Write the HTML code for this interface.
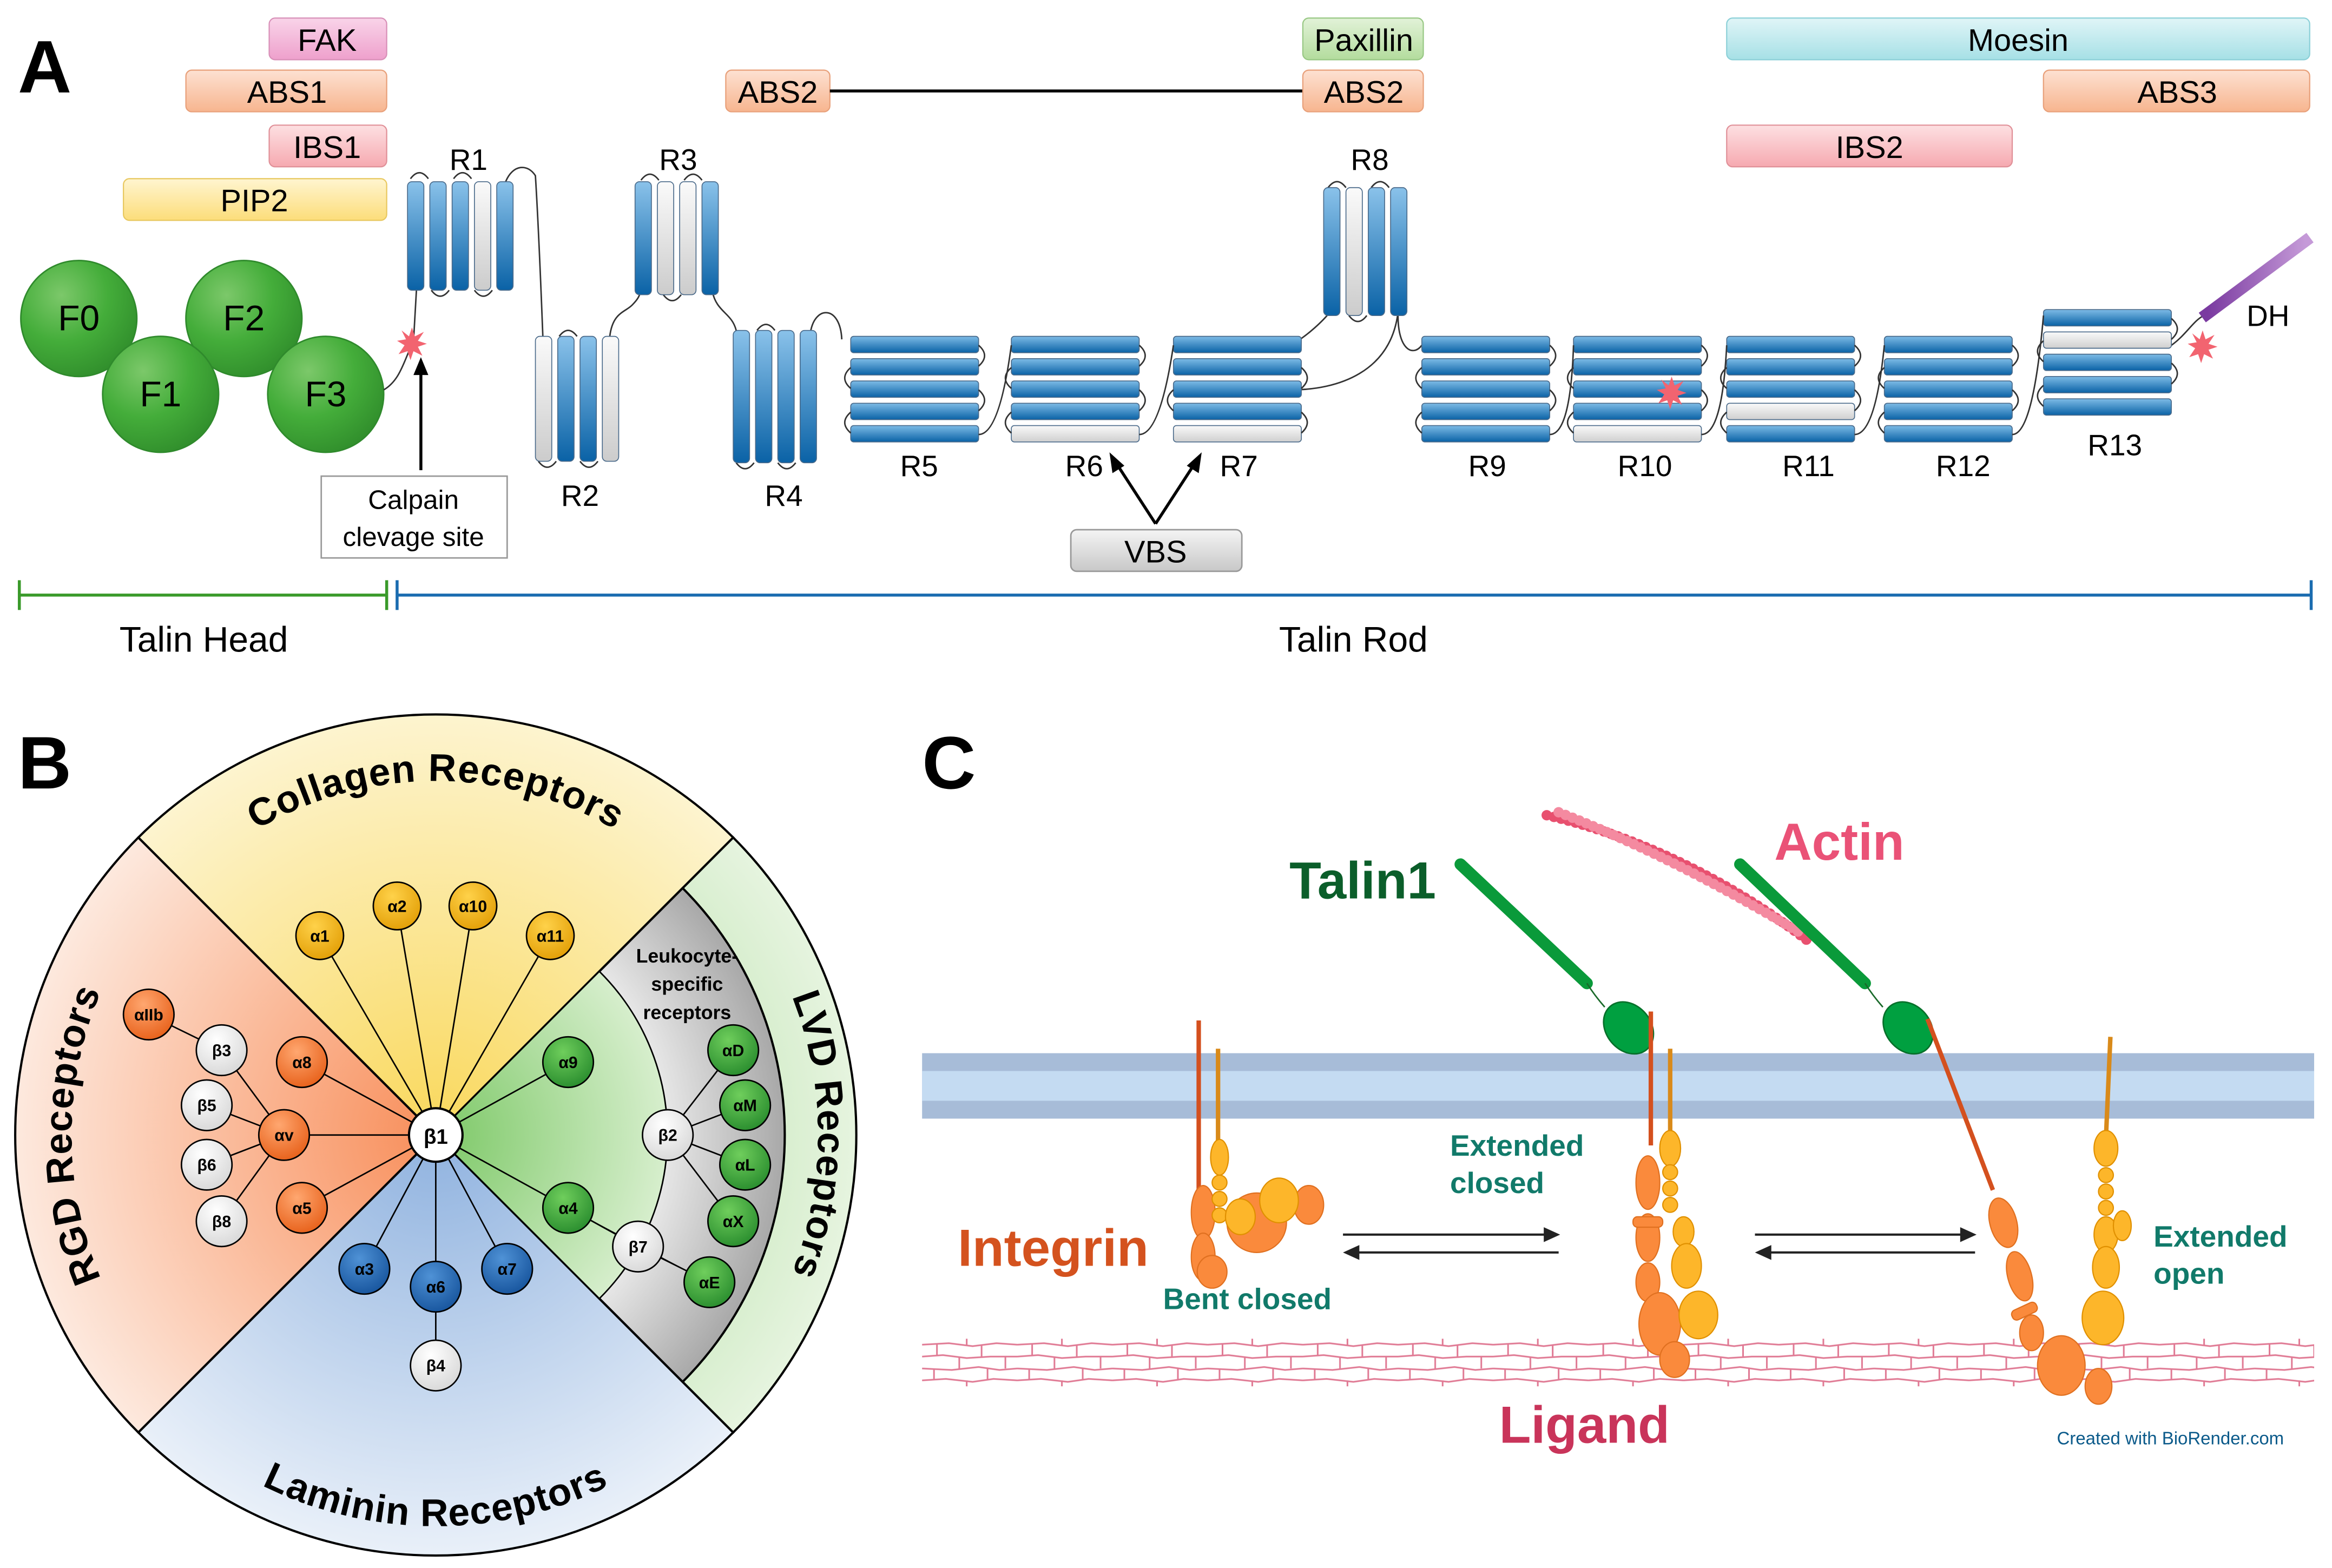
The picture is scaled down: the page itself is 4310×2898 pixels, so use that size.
<!DOCTYPE html>
<html><head><meta charset="utf-8"><style>
html,body{margin:0;padding:0;background:#fff}
svg{display:block}
text{font-family:"Liberation Sans","DejaVu Sans",sans-serif}
</style></head><body>
<svg width="4310" height="2898" viewBox="0 0 1568 1054" xmlns="http://www.w3.org/2000/svg">
<defs>
<linearGradient id="bh" x1="0" y1="0" x2="0" y2="1"><stop offset="0" stop-color="#7dbbe6"/><stop offset="1" stop-color="#0a62a6"/></linearGradient>
<linearGradient id="wh" x1="0" y1="0" x2="0" y2="1"><stop offset="0" stop-color="#fafafa"/><stop offset="1" stop-color="#cfcfcf"/></linearGradient>
<linearGradient id="bv" x1="0" y1="0" x2="0" y2="1"><stop offset="0" stop-color="#8ac2ea"/><stop offset="1" stop-color="#0a62a6"/></linearGradient>
<linearGradient id="wv" x1="0" y1="0" x2="0" y2="1"><stop offset="0" stop-color="#fafafa"/><stop offset="1" stop-color="#cccccc"/></linearGradient>
<radialGradient id="gr" cx="0.35" cy="0.3" r="0.8"><stop offset="0" stop-color="#7cc86a"/><stop offset="0.5" stop-color="#44ad3a"/><stop offset="1" stop-color="#2e8a2a"/></radialGradient>
<linearGradient id="pk" x1="0" y1="0" x2="0" y2="1"><stop offset="0" stop-color="#f9d4e9"/><stop offset="1" stop-color="#eea0cc"/></linearGradient>
<linearGradient id="pe" x1="0" y1="0" x2="0" y2="1"><stop offset="0" stop-color="#fde1d2"/><stop offset="1" stop-color="#f7b58f"/></linearGradient>
<linearGradient id="rd" x1="0" y1="0" x2="0" y2="1"><stop offset="0" stop-color="#fde0e2"/><stop offset="1" stop-color="#f6a9b0"/></linearGradient>
<linearGradient id="ye" x1="0" y1="0" x2="0" y2="1"><stop offset="0" stop-color="#fff5d0"/><stop offset="1" stop-color="#fcdd7a"/></linearGradient>
<linearGradient id="gn" x1="0" y1="0" x2="0" y2="1"><stop offset="0" stop-color="#e2f2d8"/><stop offset="1" stop-color="#b3dc9d"/></linearGradient>
<linearGradient id="cy" x1="0" y1="0" x2="0" y2="1"><stop offset="0" stop-color="#e0f5f7"/><stop offset="1" stop-color="#a6e0e6"/></linearGradient>
<linearGradient id="gy" x1="0" y1="0" x2="0" y2="1"><stop offset="0" stop-color="#f4f4f4"/><stop offset="1" stop-color="#c8c8c8"/></linearGradient>
<radialGradient id="sO" gradientUnits="userSpaceOnUse" cx="293" cy="763" r="283"><stop offset="0" stop-color="#f88e5a"/><stop offset="1" stop-color="#fde9de"/></radialGradient>
<radialGradient id="sY" gradientUnits="userSpaceOnUse" cx="293" cy="763" r="283"><stop offset="0" stop-color="#f9d85c"/><stop offset="1" stop-color="#fdf4cf"/></radialGradient>
<radialGradient id="sB" gradientUnits="userSpaceOnUse" cx="293" cy="763" r="283"><stop offset="0" stop-color="#8fb2df"/><stop offset="1" stop-color="#e9f0f9"/></radialGradient>
<radialGradient id="sG" gradientUnits="userSpaceOnUse" cx="293" cy="763" r="283"><stop offset="0.5" stop-color="#bfe4b2"/><stop offset="1" stop-color="#e6f4df"/></radialGradient>
<radialGradient id="sG2" gradientUnits="userSpaceOnUse" cx="293" cy="763" r="155"><stop offset="0" stop-color="#7cc866"/><stop offset="1" stop-color="#d6eecc"/></radialGradient>
<radialGradient id="sGy" gradientUnits="userSpaceOnUse" cx="293" cy="763" r="235"><stop offset="0.6" stop-color="#f2f2f2"/><stop offset="1" stop-color="#a8a8a8"/></radialGradient>
<radialGradient id="nO" cx="0.4" cy="0.3" r="0.8"><stop offset="0" stop-color="#ffa770"/><stop offset="1" stop-color="#e55a12"/></radialGradient>
<radialGradient id="nY" cx="0.4" cy="0.3" r="0.8"><stop offset="0" stop-color="#ffd24a"/><stop offset="1" stop-color="#e09a00"/></radialGradient>
<radialGradient id="nB" cx="0.4" cy="0.3" r="0.8"><stop offset="0" stop-color="#4f92d6"/><stop offset="1" stop-color="#124f98"/></radialGradient>
<radialGradient id="nG" cx="0.4" cy="0.3" r="0.8"><stop offset="0" stop-color="#6fce5c"/><stop offset="1" stop-color="#23872a"/></radialGradient>
<radialGradient id="nW" cx="0.4" cy="0.3" r="0.8"><stop offset="0" stop-color="#ffffff"/><stop offset="1" stop-color="#d4d4d4"/></radialGradient>
<linearGradient id="dh" x1="0" y1="0" x2="1" y2="0"><stop offset="0" stop-color="#7a3aa0"/><stop offset="1" stop-color="#c59ad8"/></linearGradient>
<pattern id="mesh" patternUnits="userSpaceOnUse" x="620" y="900" width="64" height="32">
<g stroke="#e07a94" stroke-width="1.1" fill="none">
<path d="M0 4 L18 3 L34 5 L50 3 L64 4"/>
<path d="M0 12 L14 11 L30 13 L46 12 L64 12"/>
<path d="M0 20 L20 21 L38 19 L52 21 L64 20"/>
<path d="M0 28 L16 27 L34 29 L48 27 L64 28"/>
<path d="M10 3 V11 M40 4 V12 M25 12 V20 M56 12 V20 M8 20 V28 M44 20 V28 M30 28 V32 M30 0 V4"/>
</g></pattern>
<path id="arcTop" d="M 55 763 A 238 238 0 0 1 531 763"/>
<path id="arcBot" d="M 30 763 A 263 263 0 0 0 556 763"/>
<path id="arcL" d="M 293 1008 A 245 245 0 0 1 293 518"/>
<path id="arcR" d="M 293 506 A 257 257 0 0 1 293 1020"/>
</defs>

<!-- ===== PANEL A ===== -->
<text x="12" y="62" font-size="50" font-weight="bold">A</text>
<g font-size="21" text-anchor="middle" stroke-width="0.8">
<rect x="181" y="12" width="79" height="28" rx="4" fill="url(#pk)" stroke="#d890b8"/><text x="220" y="34">FAK</text>
<rect x="125" y="47" width="135" height="28" rx="4" fill="url(#pe)" stroke="#e8a07a"/><text x="193" y="69">ABS1</text>
<rect x="181" y="84" width="79" height="28" rx="4" fill="url(#rd)" stroke="#e09098"/><text x="220" y="106">IBS1</text>
<rect x="83" y="120" width="177" height="28" rx="4" fill="url(#ye)" stroke="#e8c860"/><text x="171" y="142">PIP2</text>
<rect x="488" y="47" width="70" height="28" rx="4" fill="url(#pe)" stroke="#e8a07a"/><text x="523" y="69">ABS2</text>
<line x1="558" y1="61" x2="876" y2="61" stroke="#000" stroke-width="2"/>
<rect x="876" y="12" width="81" height="28" rx="4" fill="url(#gn)" stroke="#98c884"/><text x="917" y="34">Paxillin</text>
<rect x="876" y="47" width="81" height="28" rx="4" fill="url(#pe)" stroke="#e8a07a"/><text x="917" y="69">ABS2</text>
<rect x="1161" y="12" width="392" height="28" rx="4" fill="url(#cy)" stroke="#8cd0d8"/><text x="1357" y="34">Moesin</text>
<rect x="1374" y="47" width="179" height="28" rx="4" fill="url(#pe)" stroke="#e8a07a"/><text x="1464" y="69">ABS3</text>
<rect x="1161" y="84" width="192" height="28" rx="4" fill="url(#rd)" stroke="#e09098"/><text x="1257" y="106">IBS2</text>
</g>

<g font-size="24" text-anchor="middle">
<circle cx="53" cy="214" r="39" fill="url(#gr)" stroke="#2f8a2c"/>
<circle cx="164" cy="214" r="39" fill="url(#gr)" stroke="#2f8a2c"/>
<circle cx="108" cy="265" r="39" fill="url(#gr)" stroke="#2f8a2c"/>
<circle cx="219" cy="265" r="39" fill="url(#gr)" stroke="#2f8a2c"/>
<text x="53" y="222">F0</text><text x="164" y="222">F2</text><text x="108" y="273">F1</text><text x="219" y="273">F3</text>
</g>

<g fill="none" stroke="#333" stroke-width="1">
<path d="M258 262 C270 255 272 240 278 230 L280 195"/>
<path d="M340 122 C345 110 355 110 360 118 C362 150 364 200 365 226"/>
<path d="M410 226 C412 210 420 210 425 205 C430 200 430 198 431 195"/>
<path d="M479 196 C482 210 492 210 495 222"/>
<path d="M545 223 C548 205 565 205 566 228"/>
<path d="M868 232 C880 225 890 215 894 210"/>
<path d="M868 262 C900 262 935 250 940 210"/>
<path d="M940 212 C940 235 950 240 956 232"/>
<path d="M1460 232 C1470 225 1475 215 1482 212"/>
<path d="M276 120 q6 -8 12 0 M305 120 q6 -8 12 0 M290 195 q6 8 12 0 M319 195 q6 8 12 0"/>
<path d="M376 226 q6 -8 12 0 M362 310 q6 8 12 0 M390 310 q6 8 12 0"/>
<path d="M431 121 q6 -8 12 0 M460 121 q6 -8 12 0 M446 198 q6 8 12 0"/>
<path d="M509 222 q6 -8 12 0 M495 311 q6 8 12 0 M523 311 q6 8 12 0"/>
<path d="M893 126 q6 -8 12 0 M922 126 q6 -8 12 0 M907 212 q6 8 12 0"/>
</g>

<g stroke="#4a6a8a" stroke-width="0.6">
<g transform="translate(274,122)">
<rect x="0" width="11" height="73" rx="3" fill="url(#bv)"/><rect x="15" width="11" height="73" rx="3" fill="url(#bv)"/><rect x="30" width="11" height="73" rx="3" fill="url(#bv)"/><rect x="45" width="11" height="73" rx="3" fill="url(#wv)"/><rect x="60" width="11" height="73" rx="3" fill="url(#bv)"/></g>
<g transform="translate(360,226)">
<rect x="0" width="11" height="84" rx="3" fill="url(#wv)"/><rect x="15" width="11" height="84" rx="3" fill="url(#bv)"/><rect x="30" width="11" height="84" rx="3" fill="url(#bv)"/><rect x="45" width="11" height="84" rx="3" fill="url(#wv)"/></g>
<g transform="translate(427,122)">
<rect x="0" width="11" height="76" rx="3" fill="url(#bv)"/><rect x="15" width="11" height="76" rx="3" fill="url(#wv)"/><rect x="30" width="11" height="76" rx="3" fill="url(#wv)"/><rect x="45" width="11" height="76" rx="3" fill="url(#bv)"/></g>
<g transform="translate(493,222)">
<rect x="0" width="11" height="89" rx="3" fill="url(#bv)"/><rect x="15" width="11" height="89" rx="3" fill="url(#bv)"/><rect x="30" width="11" height="89" rx="3" fill="url(#bv)"/><rect x="45" width="11" height="89" rx="3" fill="url(#bv)"/></g>
<g transform="translate(890,126)">
<rect x="0" width="11" height="86" rx="3" fill="url(#bv)"/><rect x="15" width="11" height="86" rx="3" fill="url(#wv)"/><rect x="30" width="11" height="86" rx="3" fill="url(#bv)"/><rect x="45" width="11" height="86" rx="3" fill="url(#bv)"/></g>
</g>

<g stroke="#4a6a8a" stroke-width="0.6">
<g transform="translate(572,226)"><rect y="0" width="86" height="11" rx="2" fill="url(#bh)"/><rect y="15" width="86" height="11" rx="2" fill="url(#bh)"/><rect y="30" width="86" height="11" rx="2" fill="url(#bh)"/><rect y="45" width="86" height="11" rx="2" fill="url(#bh)"/><rect y="60" width="86" height="11" rx="2" fill="url(#bh)"/></g>
<g transform="translate(680,226)"><rect y="0" width="86" height="11" rx="2" fill="url(#bh)"/><rect y="15" width="86" height="11" rx="2" fill="url(#bh)"/><rect y="30" width="86" height="11" rx="2" fill="url(#bh)"/><rect y="45" width="86" height="11" rx="2" fill="url(#bh)"/><rect y="60" width="86" height="11" rx="2" fill="url(#wh)"/></g>
<g transform="translate(789,226)"><rect y="0" width="86" height="11" rx="2" fill="url(#bh)"/><rect y="15" width="86" height="11" rx="2" fill="url(#bh)"/><rect y="30" width="86" height="11" rx="2" fill="url(#bh)"/><rect y="45" width="86" height="11" rx="2" fill="url(#bh)"/><rect y="60" width="86" height="11" rx="2" fill="url(#wh)"/></g>
<g transform="translate(956,226)"><rect y="0" width="86" height="11" rx="2" fill="url(#bh)"/><rect y="15" width="86" height="11" rx="2" fill="url(#bh)"/><rect y="30" width="86" height="11" rx="2" fill="url(#bh)"/><rect y="45" width="86" height="11" rx="2" fill="url(#bh)"/><rect y="60" width="86" height="11" rx="2" fill="url(#bh)"/></g>
<g transform="translate(1058,226)"><rect y="0" width="86" height="11" rx="2" fill="url(#bh)"/><rect y="15" width="86" height="11" rx="2" fill="url(#bh)"/><rect y="30" width="86" height="11" rx="2" fill="url(#bh)"/><rect y="45" width="86" height="11" rx="2" fill="url(#bh)"/><rect y="60" width="86" height="11" rx="2" fill="url(#wh)"/></g>
<g transform="translate(1161,226)"><rect y="0" width="86" height="11" rx="2" fill="url(#bh)"/><rect y="15" width="86" height="11" rx="2" fill="url(#bh)"/><rect y="30" width="86" height="11" rx="2" fill="url(#bh)"/><rect y="45" width="86" height="11" rx="2" fill="url(#wh)"/><rect y="60" width="86" height="11" rx="2" fill="url(#bh)"/></g>
<g transform="translate(1267,226)"><rect y="0" width="86" height="11" rx="2" fill="url(#bh)"/><rect y="15" width="86" height="11" rx="2" fill="url(#bh)"/><rect y="30" width="86" height="11" rx="2" fill="url(#bh)"/><rect y="45" width="86" height="11" rx="2" fill="url(#bh)"/><rect y="60" width="86" height="11" rx="2" fill="url(#bh)"/></g>
<g transform="translate(1374,208)"><rect y="0" width="86" height="11" rx="2" fill="url(#bh)"/><rect y="15" width="86" height="11" rx="2" fill="url(#wh)"/><rect y="30" width="86" height="11" rx="2" fill="url(#bh)"/><rect y="45" width="86" height="11" rx="2" fill="url(#bh)"/><rect y="60" width="86" height="11" rx="2" fill="url(#bh)"/></g>
</g>
<g fill="none" stroke="#333" stroke-width="1">
<path d="M658 232 q8 7 0 14 M572 247 q-8 7 0 14 M658 262 q8 7 0 14 M572 277 q-8 7 0 14 M658 292 q14 0 22 -60"/>
<path d="M766 232 q8 7 0 14 M680 247 q-8 7 0 14 M766 262 q8 7 0 14 M680 277 q-8 7 0 14 M766 292 q14 0 23 -60"/>
<path d="M875 247 q8 7 0 14 M789 262 q-8 7 0 14 M875 277 q8 7 0 14"/>
<path d="M1042 232 q8 7 0 14 M956 247 q-8 7 0 14 M1042 262 q8 7 0 14 M956 277 q-8 7 0 14 M1042 292 q14 0 16 -60"/>
<path d="M1144 232 q8 7 0 14 M1058 247 q-8 7 0 14 M1144 262 q8 7 0 14 M1058 277 q-8 7 0 14 M1144 292 q14 0 17 -60"/>
<path d="M1247 232 q8 7 0 14 M1161 247 q-8 7 0 14 M1247 262 q8 7 0 14 M1161 277 q-8 7 0 14 M1247 292 q14 0 20 -60"/>
<path d="M1353 232 q8 7 0 14 M1267 247 q-8 7 0 14 M1353 262 q8 7 0 14 M1267 277 q-8 7 0 14 M1353 292 q14 0 21 -80"/>
<path d="M1460 214 q8 7 0 14 M1374 229 q-8 7 0 14 M1460 244 q8 7 0 14 M1374 259 q-8 7 0 14"/>
</g>
<line x1="1484" y1="211" x2="1550" y2="162" stroke="url(#dh)" stroke-width="8" stroke-linecap="square"/>
<g fill="#f26470">
<polygon points="277,220 279,226 285,223 281,229 287,231 281,233 284,239 278,236 276,242 274,236 268,238 272,232 267,229 273,228 270,222 275,226"/>
<polygon points="1124,253 1126,259 1132,256 1128,262 1134,264 1128,266 1131,272 1125,269 1123,275 1121,269 1115,271 1119,265 1114,262 1120,261 1117,255 1122,259"/>
<polygon points="1481,222 1483,228 1489,225 1485,231 1491,233 1485,235 1488,241 1482,238 1480,244 1478,238 1472,240 1476,234 1471,231 1477,230 1474,224 1479,228"/>
</g>

<g font-size="20" text-anchor="middle">
<text x="315" y="114">R1</text><text x="456" y="114">R3</text><text x="921" y="114">R8</text>
<text x="390" y="340">R2</text><text x="527" y="340">R4</text>
<text x="618" y="320">R5</text><text x="729" y="320">R6</text><text x="833" y="320">R7</text>
<text x="1000" y="320">R9</text><text x="1106" y="320">R10</text><text x="1216" y="320">R11</text><text x="1320" y="320">R12</text><text x="1422" y="306">R13</text>
<text x="1525" y="219">DH</text>
</g>
<line x1="283" y1="316" x2="283" y2="248" stroke="#000" stroke-width="2"/>
<polygon points="283,240 278,252 288,252" fill="#000"/>
<rect x="216" y="320" width="125" height="55" fill="#fff" stroke="#999"/>
<text x="278" y="342" font-size="18" text-anchor="middle">Calpain</text>
<text x="278" y="367" font-size="18" text-anchor="middle">clevage site</text>
<rect x="720" y="356" width="115" height="28" rx="4" fill="url(#gy)" stroke="#999"/>
<text x="777" y="378" font-size="21" text-anchor="middle">VBS</text>
<path d="M777 352 L751 312 M777 352 L803 312" stroke="#000" stroke-width="2" fill="none"/>
<polygon points="746,304 748,318 756,313" fill="#000"/><polygon points="808,304 798,313 806,318" fill="#000"/>

<path d="M13 390 V410 M13 400 H260 M260 390 V410" stroke="#3a9a2a" stroke-width="2" fill="none"/>
<path d="M267 390 V410 M267 400 H1554 M1554 390 V410" stroke="#1a6cb0" stroke-width="2" fill="none"/>
<text x="137" y="438" font-size="24" text-anchor="middle">Talin Head</text>
<text x="910" y="438" font-size="24" text-anchor="middle">Talin Rod</text>

<!-- ===== PANEL B ===== -->
<text x="12" y="530" font-size="50" font-weight="bold">B</text>
<g stroke="#000" stroke-width="1.5">
<path d="M293 763 L93 563 A283 283 0 0 1 493 563 Z" fill="url(#sY)"/>
<path d="M293 763 L93 963 A283 283 0 0 0 493 963 Z" fill="url(#sB)"/>
<path d="M293 763 L93 563 A283 283 0 0 0 93 963 Z" fill="url(#sO)"/>
<path d="M293 763 L493 563 A283 283 0 0 1 493 963 Z" fill="url(#sG)"/>
<path d="M293 763 L459 597 A235 235 0 0 1 459 929 Z" fill="url(#sGy)"/>
<path d="M293 763 L403 653 A155 155 0 0 1 403 873 Z" fill="url(#sG2)" stroke-width="1"/>
</g>
<g font-size="26" font-weight="bold" letter-spacing="0.5">
<text><textPath href="#arcTop" startOffset="50%" text-anchor="middle">Collagen Receptors</textPath></text>
<text><textPath href="#arcBot" startOffset="50%" text-anchor="middle">Laminin Receptors</textPath></text>
<text><textPath href="#arcL" startOffset="50%" text-anchor="middle">RGD Receptors</textPath></text>
<text><textPath href="#arcR" startOffset="50%" text-anchor="middle">LVD Receptors</textPath></text>
</g>
<g font-size="13" font-weight="bold" text-anchor="middle"><text x="462" y="647">Leukocyte-</text><text x="462" y="666">specific</text><text x="462" y="685">receptors</text></g>
<g stroke="#000" stroke-width="1">
<path d="M293 763 L215 629 M293 763 L267 609 M293 763 L318 609 M293 763 L370 629 M293 763 L203 714 M293 763 L191 763 M293 763 L203 812 M293 763 L245 853 M293 763 L293 865 M293 763 L341 853 M293 763 L382 714 M293 763 L382 812"/>
<path d="M191 763 L149 706 M191 763 L139 743 M191 763 L139 783 M191 763 L149 821 M100 682 L149 706 M293 865 L293 918 M382 812 L429 838 L477 862 M449 763 L493 706 M449 763 L501 743 M449 763 L501 783 M449 763 L493 821"/>
</g>
<g stroke="#000" stroke-width="1">
<circle cx="215" cy="629" r="16" fill="url(#nY)"/><circle cx="267" cy="609" r="16" fill="url(#nY)"/><circle cx="318" cy="609" r="16" fill="url(#nY)"/><circle cx="370" cy="629" r="16" fill="url(#nY)"/>
<circle cx="203" cy="714" r="17" fill="url(#nO)"/><circle cx="191" cy="763" r="17" fill="url(#nO)"/><circle cx="203" cy="812" r="17" fill="url(#nO)"/><circle cx="100" cy="682" r="17" fill="url(#nO)"/>
<circle cx="149" cy="706" r="17" fill="url(#nW)"/><circle cx="139" cy="743" r="17" fill="url(#nW)"/><circle cx="139" cy="783" r="17" fill="url(#nW)"/><circle cx="149" cy="821" r="17" fill="url(#nW)"/>
<circle cx="245" cy="853" r="17" fill="url(#nB)"/><circle cx="293" cy="865" r="17" fill="url(#nB)"/><circle cx="341" cy="853" r="17" fill="url(#nB)"/><circle cx="293" cy="918" r="17" fill="url(#nW)"/>
<circle cx="382" cy="714" r="17" fill="url(#nG)"/><circle cx="382" cy="812" r="17" fill="url(#nG)"/><circle cx="429" cy="838" r="17" fill="url(#nW)"/><circle cx="477" cy="862" r="17" fill="url(#nG)"/>
<circle cx="449" cy="763" r="17" fill="url(#nW)"/><circle cx="493" cy="706" r="17" fill="url(#nG)"/><circle cx="501" cy="743" r="17" fill="url(#nG)"/><circle cx="501" cy="783" r="17" fill="url(#nG)"/><circle cx="493" cy="821" r="17" fill="url(#nG)"/>
<circle cx="293" cy="763" r="18" fill="#fff" stroke-width="1.5"/>
</g>
<g font-size="11" font-weight="bold" text-anchor="middle">
<text x="215" y="633">α1</text><text x="267" y="613">α2</text><text x="318" y="613">α10</text><text x="370" y="633">α11</text>
<text x="203" y="718">α8</text><text x="191" y="767">αv</text><text x="203" y="816">α5</text><text x="100" y="686">αIIb</text>
<text x="149" y="710">β3</text><text x="139" y="747">β5</text><text x="139" y="787">β6</text><text x="149" y="825">β8</text>
<text x="245" y="857">α3</text><text x="293" y="869">α6</text><text x="341" y="857">α7</text><text x="293" y="922">β4</text>
<text x="382" y="718">α9</text><text x="382" y="816">α4</text><text x="429" y="842">β7</text><text x="477" y="866">αE</text>
<text x="449" y="767">β2</text><text x="493" y="710">αD</text><text x="501" y="747">αM</text><text x="501" y="787">αL</text><text x="493" y="825">αX</text>
<text x="293" y="769" font-size="14">β1</text>
</g>

<!-- ===== PANEL C ===== -->
<text x="620" y="530" font-size="50" font-weight="bold">C</text>
<rect x="620" y="708" width="936" height="44" fill="#a7bcd8"/>
<rect x="620" y="720" width="936" height="20" fill="#c4dbf2"/>
<rect x="620" y="900" width="936" height="32" fill="url(#mesh)"/>
<g fill="none" stroke-linecap="round">
<path d="M1040 548 C1100 562 1160 590 1215 632" stroke="#e8506f" stroke-width="7" stroke-dasharray="0 5"/>
<path d="M1048 546 C1110 570 1165 600 1212 628" stroke="#f48aa0" stroke-width="7" stroke-dasharray="0 5"/>
</g>
<g stroke="#0a9a3a" stroke-width="8" stroke-linecap="round">
<line x1="982" y1="581" x2="1067" y2="661"/>
<line x1="1170" y1="581" x2="1254" y2="661"/>
</g>
<path d="M1067 661 q5 8 12 16 M1254 661 q5 8 12 16" stroke="#1a6a2a" fill="none"/>
<ellipse cx="1095" cy="691" rx="15" ry="19" transform="rotate(-40 1095 691)" fill="#00a040" stroke="#06702a"/>
<ellipse cx="1283" cy="691" rx="15" ry="19" transform="rotate(-40 1283 691)" fill="#00a040" stroke="#06702a"/>
<g stroke-width="3" fill="none">
<path d="M806 686 V800" stroke="#d4501e"/><path d="M819 705 V780" stroke="#d98a1a"/>
<path d="M1110 680 V770" stroke="#d4501e"/><path d="M1123 705 V765" stroke="#d98a1a"/>
<path d="M1296 685 L1340 800" stroke="#d4501e"/><path d="M1419 697 L1416 765" stroke="#d98a1a"/>
</g>
<g stroke="#e07020" stroke-width="0.8">
<g fill="#fa8a3c">
<ellipse cx="809" cy="815" rx="8" ry="18"/><ellipse cx="809" cy="845" rx="8" ry="16"/><ellipse cx="845" cy="822" rx="20" ry="20"/><ellipse cx="880" cy="810" rx="10" ry="13"/><ellipse cx="815" cy="855" rx="10" ry="11"/>
<ellipse cx="1108" cy="795" rx="8" ry="18"/><ellipse cx="1108" cy="832" rx="8" ry="16"/><rect x="1098" y="818" width="20" height="7" rx="3"/><ellipse cx="1108" cy="862" rx="8" ry="13"/><ellipse cx="1116" cy="890" rx="14" ry="21"/><ellipse cx="1126" cy="914" rx="10" ry="12"/>
<ellipse cx="1347" cy="822" rx="9" ry="17" transform="rotate(-15 1347 822)"/><ellipse cx="1358" cy="858" rx="8" ry="17" transform="rotate(-15 1358 858)"/><rect x="1352" y="878" width="18" height="7" rx="3" transform="rotate(-25 1361 881)"/><ellipse cx="1366" cy="896" rx="8" ry="12"/><ellipse cx="1386" cy="918" rx="16" ry="20"/><ellipse cx="1411" cy="932" rx="9" ry="12"/>
</g>
<g fill="#fdb62a" stroke="#e09000">
<ellipse cx="820" cy="778" rx="6" ry="12"/><circle cx="820" cy="795" r="5"/><circle cx="820" cy="806" r="5"/><circle cx="820" cy="817" r="5"/><ellipse cx="834" cy="818" rx="10" ry="12"/><ellipse cx="860" cy="807" rx="13" ry="15"/>
<ellipse cx="1123" cy="772" rx="7" ry="12"/><circle cx="1123" cy="788" r="5"/><circle cx="1123" cy="799" r="5"/><circle cx="1123" cy="810" r="5"/><ellipse cx="1132" cy="828" rx="7" ry="10"/><ellipse cx="1134" cy="851" rx="10" ry="15"/><ellipse cx="1142" cy="884" rx="13" ry="16"/>
<ellipse cx="1416" cy="772" rx="8" ry="12"/><circle cx="1416" cy="790" r="5"/><circle cx="1416" cy="801" r="5"/><circle cx="1416" cy="812" r="5"/><ellipse cx="1416" cy="830" rx="8" ry="12"/><ellipse cx="1427" cy="824" rx="6" ry="10"/><ellipse cx="1416" cy="852" rx="9" ry="14"/><ellipse cx="1414" cy="886" rx="14" ry="18"/>
</g>
</g>
<g stroke="#222" stroke-width="1.5">
<line x1="903" y1="830" x2="1040" y2="830"/><line x1="912" y1="842" x2="1048" y2="842"/>
<line x1="1180" y1="830" x2="1320" y2="830"/><line x1="1189" y1="842" x2="1328" y2="842"/>
</g>
<g fill="#222">
<polygon points="1049,830 1038,825 1038,835"/><polygon points="903,842 914,837 914,847"/>
<polygon points="1329,830 1318,825 1318,835"/><polygon points="1180,842 1191,837 1191,847"/>
</g>
<g font-weight="bold">
<text x="867" y="604" font-size="35" fill="#0b5e2a">Talin1</text>
<text x="1193" y="578" font-size="35" fill="#ea5277">Actin</text>
<text x="644" y="851" font-size="35" fill="#d4521e">Integrin</text>
<text x="1008" y="970" font-size="35" fill="#c9345a">Ligand</text>
<g font-size="20" fill="#117a6a">
<text x="782" y="880">Bent closed</text>
<text x="975" y="777">Extended</text><text x="975" y="802">closed</text>
<text x="1448" y="838">Extended</text><text x="1448" y="863">open</text>
</g>
</g>
<text x="1383" y="971" font-size="12" fill="#0b5a8a">Created with BioRender.com</text>
</svg>
</body></html>
